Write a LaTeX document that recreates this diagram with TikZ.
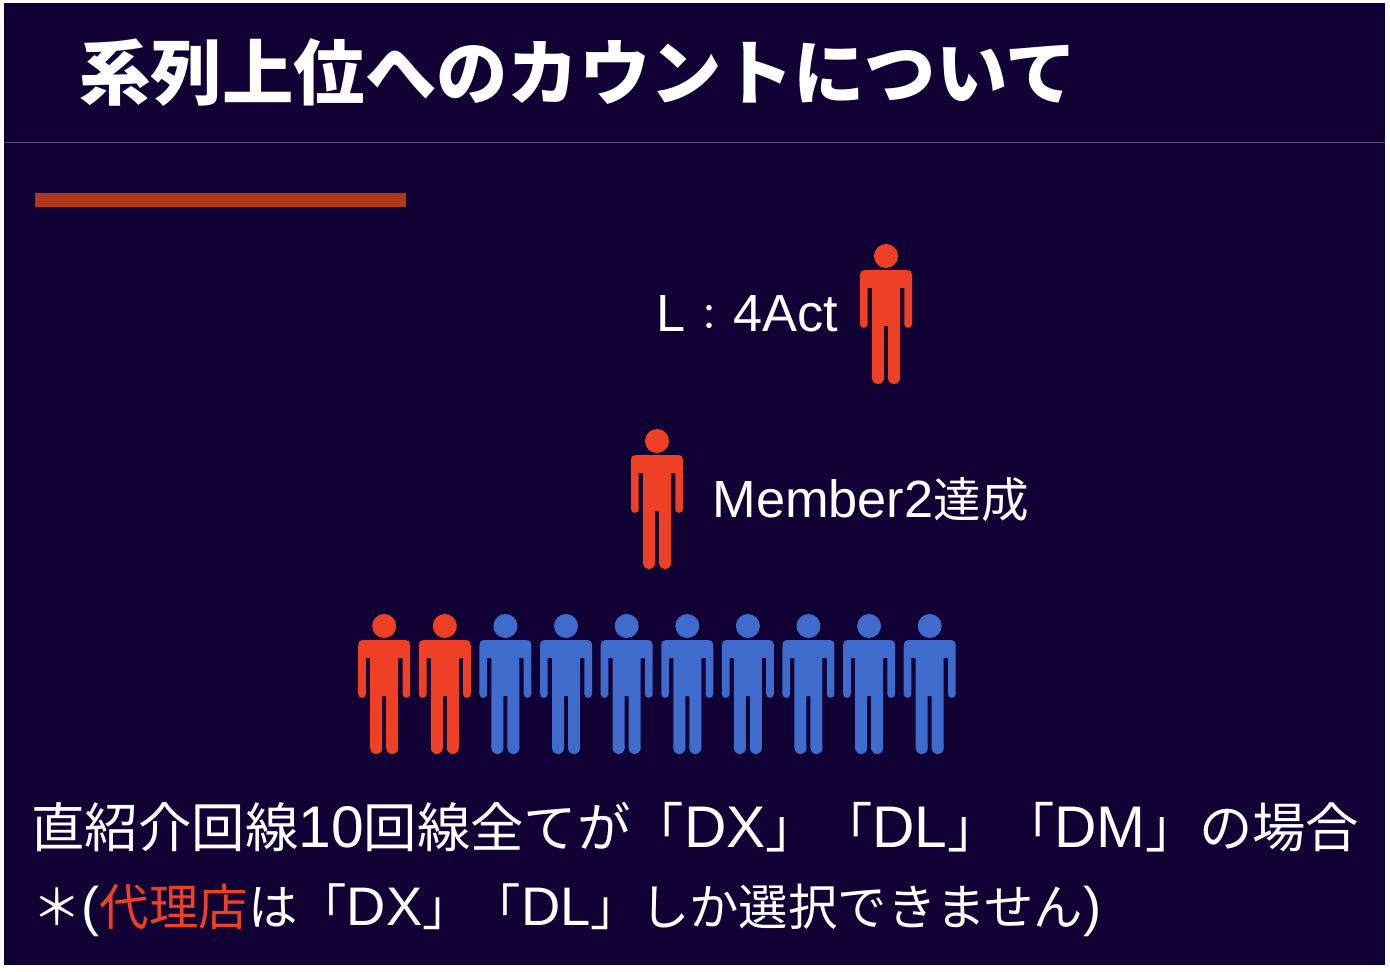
\documentclass[tikz,border=0pt]{standalone}
\usepackage{fontspec}
\setmainfont{Noto Sans CJK JP}
\newfontfamily\latfont[Scale=1.1]{Liberation Sans}
\newcommand{\lat}[1]{{\latfont #1}}
\newcommand{\smallcolon}{\makebox[1em]{\raisebox{0.5pt}{\fontsize{18}{20}\selectfont ：}}}
\usepackage{tikz}
\usetikzlibrary{positioning}
\definecolor{slidebg}{RGB}{17,0,51}
\definecolor{ruleline}{RGB}{92,78,122}
\definecolor{accentbar}{RGB}{176,56,26}
\definecolor{personred}{RGB}{238,64,36}
\definecolor{personblue}{RGB}{62,107,204}
\tikzset{
  titletext/.style={white, anchor=base west, inner sep=0pt, font=\fontsize{35.7}{40}\selectfont\bfseries},
  bodytext/.style={white, anchor=base west, inner sep=0pt, font=\fontsize{26.7}{30}\selectfont},
  notetext/.style={white, anchor=base west, inner sep=0pt, font=\fontsize{24.7}{30}\selectfont},
  labeltext/.style={white, anchor=base west, inner sep=0pt, font=\fontsize{23.8}{30}\selectfont},
  person/.pic={
    \fill (0,0) circle[radius=12];
    \fill (-26,68) -- (-26,24) .. controls (-26,14) .. (-16,14) -- (16,14) .. controls (26,14) .. (26,24)
      -- (26,68) -- (18.3,68) -- (18.3,32) -- (14,32) -- (14,122) -- (2,122) -- (2,70) -- (-2,70)
      -- (-2,122) -- (-14,122) -- (-14,32) -- (-18.3,32) -- (-18.3,68) -- cycle;
    \fill (-22.15,68) circle[radius=3.85] (22.15,68) circle[radius=3.85];
    \fill (-8,122) circle[radius=6] (8,122) circle[radius=6];
  }
}
\begin{document}
\begin{tikzpicture}[x=0.5pt, y=-0.5pt]
  \useasboundingbox (0,0) rectangle (1390,972);
  % Slide
  \fill[white] (0,0) rectangle (1390,972);
  \fill[slidebg] (4,3) rectangle (1385,965);
  \draw[ruleline, line width=0.5pt] (4,142.5) -- (1385,142.5);
  \fill[accentbar] (35,193) rectangle (406,207);

  % Title
  \node[titletext] (title) at (79,100) {系列上位へのカウントについて};

  % Upper levels
  \pic[personred] (leader) at (886,256) {person};
  \node[labeltext] (leaderlabel) at (656,332) {\lat{L}\smallcolon\lat{4Act}};
  \pic[personred] (member) at (657,441) {person};
  \node[labeltext] (memberlabel) at (712,517) {\lat{Member2}達成};

  % Ten direct lines
  \foreach \i/\c in {0/personred,1/personred,2/personblue,3/personblue,4/personblue,
                     5/personblue,6/personblue,7/personblue,8/personblue,9/personblue}
    \pic[\c] (line\i) at ({384.2+60.61*\i},626) {person};

  % Caption
  \node[bodytext] (caption) at (31,847) {直紹介回線\lat{10}回線全てが「\lat{DX}」「\lat{DL}」「\lat{DM}」の場合};
  \node[notetext] (note) at (32,925) {＊\lat{(}\textcolor{personred}{代理店}は「\lat{DX}」「\lat{DL}」しか選択できません\lat{)}};
\end{tikzpicture}
\end{document}
